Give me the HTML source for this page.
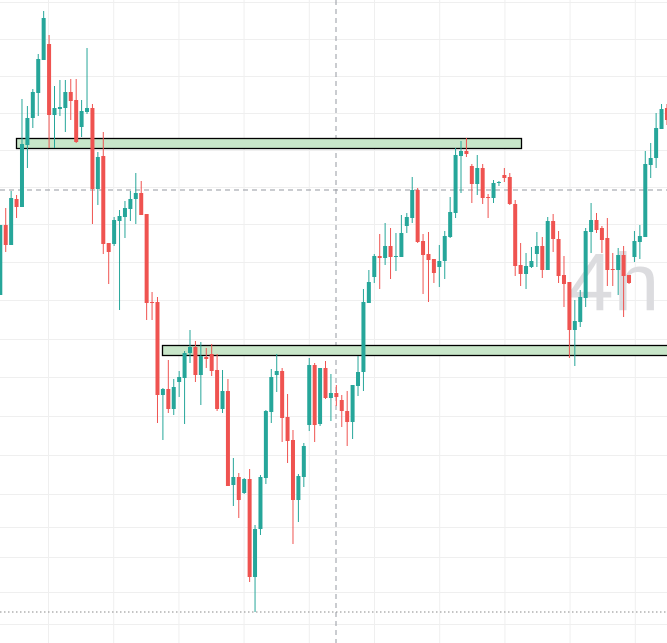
<!DOCTYPE html>
<html><head><meta charset="utf-8"><style>
html,body{margin:0;padding:0;background:#fff;width:667px;height:643px;overflow:hidden}
svg{display:block}
</style></head><body>
<svg id="c" width="667" height="643" viewBox="0 0 667 643" xmlns="http://www.w3.org/2000/svg">
<g id="grid" stroke="#efefef" stroke-width="1"></g>
<text x="568" y="310" font-family="Liberation Sans, sans-serif" font-size="82" fill="#dcdcdf">4h</text>
<line x1="0" y1="612" x2="667" y2="612" stroke="#8a8a8a" stroke-width="1" stroke-dasharray="1.5,2.5"/>
<line x1="336" y1="0" x2="336" y2="643" stroke="#9598a1" stroke-width="1" stroke-dasharray="5,4"/>
<line x1="0" y1="190" x2="667" y2="190" stroke="#9598a1" stroke-width="1" stroke-dasharray="5,4"/>
<rect x="16.5" y="138.5" width="505" height="10" fill="#c8e6c9" stroke="#000" stroke-width="1.3"/>
<rect x="162.5" y="345.5" width="506" height="10" fill="#c8e6c9" stroke="#000" stroke-width="1.3"/>
<g id="candles"></g>
</svg>
<script>
var ns="http://www.w3.org/2000/svg";
var g=document.getElementById("grid");
[2,39,76,113,150,187,224,262,300,339,377,416,455,494,527,557,592,624].forEach(function(y){
 var l=document.createElementNS(ns,"line");l.setAttribute("x1",0);l.setAttribute("x2",667);l.setAttribute("y1",y+.5);l.setAttribute("y2",y+.5);g.appendChild(l);});
for(var k=0;k<10;k++){var x=48.5+65.2*k;var l=document.createElementNS(ns,"line");l.setAttribute("y1",0);l.setAttribute("y2",643);l.setAttribute("x1",x);l.setAttribute("x2",x);g.appendChild(l);}
var d=[[295,225,225,295],[225,245,208,252],[245,198,191,245],[199,207,195,218],[207,144,99,207],[145,118,106,168],[118,92,89,128],[93,59,54,116],[60,18,11,60],[44,115,35,148],
[115,108,86,148],[109,107,80,116],[108,92,80,132],[92,101,79,120],[100,142,79,143],[127,111,100,137],[112,108,48,114],[108,189,104,224],[189,157,152,205],[156,244,132,254],
[243,252,243,284],[244,220,217,246],[221,216,210,310],[217,208,201,238],[209,199,191,221],[199,193,173,224],[193,215,181,215],[214,303,214,320],[302,303,292,320],[302,395,297,423],
[395,389,388,440],[389,409,360,413],[409,387,379,415],[382,377,371,397],[378,353,351,424],[353,347,330,363],[347,375,341,382],[375,356,342,405],[357,359,348,368],[354,371,344,376],
[370,409,354,411],[409,391,370,413],[391,486,379,486],[485,477,458,506],[477,500,473,518],[493,479,478,494],[479,577,469,582],[577,529,525,612],[529,477,475,535],[478,411,410,484],
[412,377,369,423],[375,371,354,392],[371,418,368,442],[417,441,394,463],[440,500,430,544],[500,476,474,522],[477,446,443,487],[425,365,358,431],[365,425,363,442],[424,368,368,426],
[368,398,361,399],[398,393,374,421],[393,397,385,406],[400,411,395,427],[411,422,391,446],[422,385,385,439],[386,372,356,396],[372,302,289,391],[303,282,270,303],[277,256,254,283],
[256,258,234,289],[258,246,223,265],[246,257,228,279],[257,256,233,271],[257,233,215,257],[226,217,213,233],[218,190,177,223],[190,242,188,243],[241,255,234,294],[254,260,232,302],
[259,273,259,283],[267,261,245,287],[261,236,231,279],[237,212,197,238],[213,155,148,218],[156,151,141,193],[151,154,138,157],[166,184,164,203],[184,168,155,195],[168,198,164,204],
[197,198,194,218],[198,183,180,203],[183,182,181,186],[175,178,168,182],[177,204,173,205],[204,266,200,276],[265,274,243,286],[274,266,253,289],[267,261,247,268],[254,246,232,267],
[246,270,237,278],[270,221,217,270],[221,239,214,252],[239,276,231,283],[275,284,256,307],[282,330,282,358],[330,321,300,366],[322,297,290,327],[298,231,228,307],[232,220,203,253],
[220,230,213,233],[228,240,226,253],[238,270,218,286],[269,270,253,286],[270,255,248,295],[255,276,246,317],[275,283,275,284],[257,241,231,262],[242,236,225,259],[237,164,151,237],
[165,158,143,178],[158,128,113,168],[129,109,104,129],[108,120,104,125]];
var cg=document.getElementById("candles"),s="";
d.forEach(function(c,i){
 var x=0.3+5.42*i,o=c[0],cl=c[1],h=c[2],lo=c[3];
 var up=cl<=o,col=up?"#26a69a":"#ef5350";
 var top=Math.min(o,cl),bh=Math.max(1,Math.abs(o-cl));
 s+='<line x1="'+x+'" x2="'+x+'" y1="'+h+'" y2="'+lo+'" stroke="'+col+'" stroke-width="1"/>';
 s+='<rect x="'+(x-2)+'" y="'+top+'" width="4" height="'+bh+'" fill="'+col+'"/>';
});
cg.innerHTML=s;
</script>
</body></html>
